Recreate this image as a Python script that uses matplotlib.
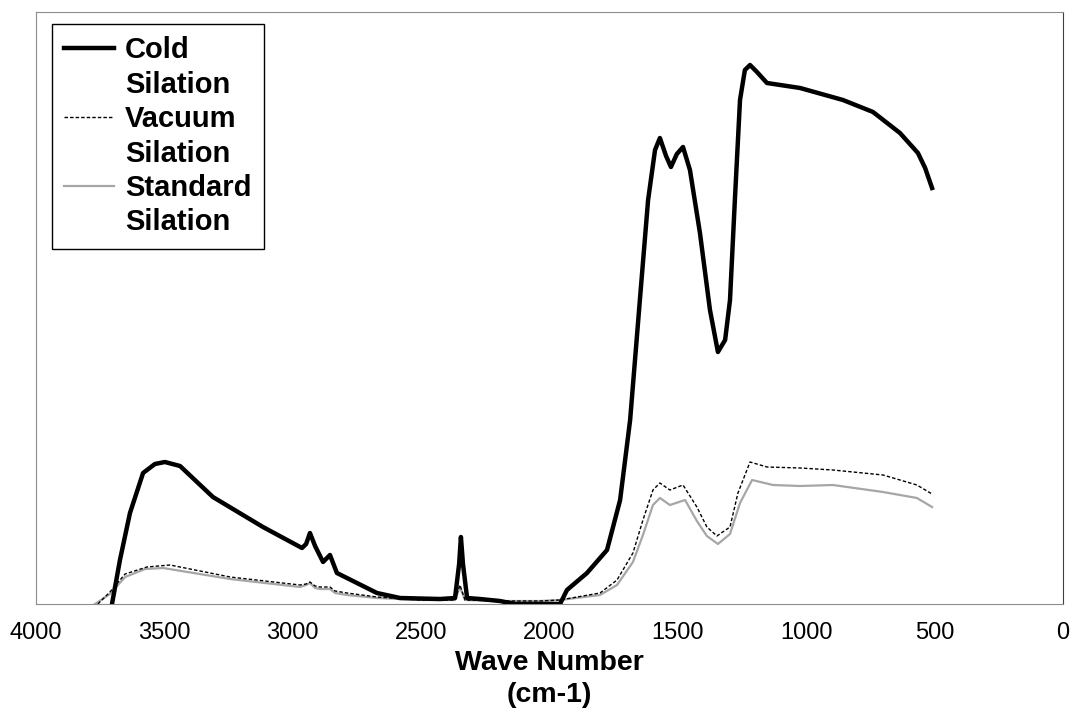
import matplotlib
matplotlib.use("Agg")
import matplotlib.pyplot as plt
from matplotlib.lines import Line2D

plt.rcParams['font.family'] = ['Liberation Sans', 'DejaVu Sans']

# wave numbers (cm-1) and band heights (arbitrary units)
cold_w = [3704, 3673, 3634, 3583, 3537, 3498, 3439, 3311, 3116, 2964, 2948, 2933,
          2913, 2882, 2855, 2828, 2750, 2672, 2582, 2426, 2368, 2352, 2345, 2337,
          2321, 2271, 2193, 2134, 1959, 1932, 1854, 1776, 1725, 1686, 1648, 1616,
          1589, 1570, 1546, 1527, 1504, 1480, 1453, 1414, 1375, 1344, 1316, 1297,
          1278, 1258, 1239, 1219, 1192, 1153, 1024, 857, 740, 635, 565, 537, 510]
cold_h = [0, 44, 91, 131, 140, 142, 138, 107, 77, 56, 60, 71,
          58, 42, 49, 31, 21, 11, 6, 5, 6, 40, 67, 40,
          6, 5, 3, 0, 0, 14, 31, 54, 104, 184, 304, 404,
          454, 466, 448, 437, 450, 457, 434, 371, 294, 252, 264, 304,
          404, 504, 534, 539, 532, 521, 516, 504, 492, 471, 451, 436, 416]

vac_w = [3759, 3712, 3653, 3568, 3478, 3244, 2972, 2948, 2933, 2913, 2894, 2855,
         2835, 2789, 2672, 2504, 2368, 2349, 2329, 2193, 2037, 1959, 1803, 1737,
         1675, 1636, 1597, 1570, 1531, 1480, 1426, 1387, 1348, 1297, 1266, 1219,
         1153, 1024, 896, 701, 569, 510]
vac_h = [0, 12, 30, 37, 39, 27, 19, 20, 22, 18, 17, 17,
         13, 11, 7, 4, 4, 19, 4, 3, 3, 4, 11, 24,
         51, 84, 114, 121, 114, 119, 97, 77, 68, 77, 111, 142,
         137, 136, 134, 129, 119, 110]

std_w = [3770, 3712, 3653, 3575, 3505, 3244, 2972, 2948, 2933, 2913, 2894, 2855,
         2835, 2789, 2672, 2504, 2368, 2349, 2329, 2193, 2037, 1959, 1803, 1737,
         1675, 1636, 1597, 1570, 1531, 1472, 1426, 1387, 1344, 1297, 1258, 1211,
         1130, 1024, 896, 701, 569, 510]
std_h = [0, 10, 27, 35, 36, 25, 17, 19, 21, 16, 15, 15,
         11, 9, 6, 4, 4, 17, 4, 3, 3, 4, 9, 19,
         42, 69, 99, 106, 99, 104, 83, 68, 60, 70, 101, 124,
         119, 118, 119, 112, 106, 97]

x_ticks = [4000, 3500, 3000, 2500, 2000, 1500, 1000, 500, 0]

fig = plt.figure(figsize=(10.73, 7.12), dpi=100)
ax = fig.add_axes([36 / 1073, 108 / 712, 1027 / 1073, 592 / 712])

std_line, = ax.plot(std_w, std_h, color='#a6a6a6', lw=1.6, zorder=2)
vac_line, = ax.plot(vac_w, vac_h, color='black', lw=1.0, ls=(0, (2.5, 1.5)), zorder=3)
cold_line, = ax.plot(cold_w, cold_h, color='black', lw=3.2, zorder=4)

ax.set_xlim(4000, 0)
ax.set_ylim(0, 592)
ax.set_xticks(x_ticks)
ax.set_xticklabels([str(t) for t in x_ticks])
ax.set_yticks([])
ax.tick_params(axis='x', length=0, pad=13, labelsize=17)
ax.set_xlabel('Wave Number\n(cm-1)', fontsize=20.5, fontweight='bold',
              labelpad=4, linespacing=1.3)

for side in ['left', 'bottom', 'top']:
    ax.spines[side].set_color('#8c8c8c')
ax.spines['right'].set_color('#404040')

# one legend row per text line so the handle sits on the first line
blank = Line2D([], [], color='none')
handles = [cold_line, blank, vac_line, blank, std_line, blank]
labels = ['Cold', 'Silation', 'Vacuum', 'Silation', 'Standard', 'Silation']
leg = ax.legend(handles, labels, loc='upper left',
                bbox_to_anchor=(16 / 1027, 1 - 12 / 592),
                prop={'weight': 'bold', 'size': 21}, frameon=True,
                fancybox=False, edgecolor='black', framealpha=1,
                handlelength=1.7, handletextpad=0.38, borderpad=0.42,
                labelspacing=0.22, borderaxespad=0)
leg.get_frame().set_linewidth(1.0)

fig.savefig('out.png', dpi=100)
